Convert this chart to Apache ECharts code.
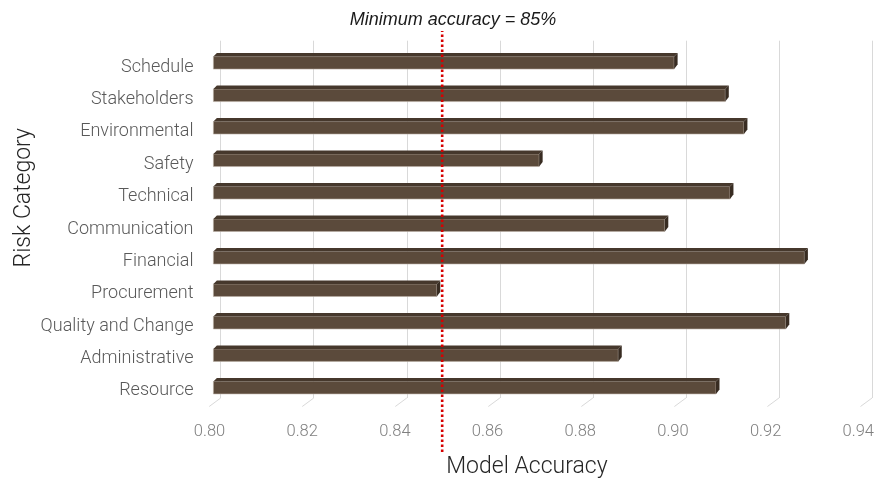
<!DOCTYPE html>
<html>
<head>
<meta charset="utf-8">
<script src="https://cdn.jsdelivr.net/npm/echarts@6/dist/echarts.min.js"></script>
<style>
  html, body { margin: 0; padding: 0; background: #ffffff; }
  #chart { width: 877px; height: 484px; }
</style>
</head>
<body>
<div id="chart"></div>
<script>
// Risk categories, top to bottom
const categories = [
  'Schedule', 'Stakeholders', 'Environmental', 'Safety', 'Technical',
  'Communication', 'Financial', 'Procurement', 'Quality and Change',
  'Administrative', 'Resource'
];
// Model accuracy per category
const accuracy = [0.899, 0.910, 0.914, 0.870, 0.911, 0.897, 0.927, 0.848, 0.923, 0.887, 0.908];
// Accuracy axis ticks
const tickValues = [0.80, 0.82, 0.84, 0.86, 0.88, 0.90, 0.92, 0.94];
const axisMin = 0.80, axisMax = 0.94, axisStep = 0.02;
// Threshold
const minimumAccuracy = 0.85;
const thresholdLabel = 'Minimum accuracy = 85%';

const FONT = 'Roboto';
const chart = echarts.init(document.getElementById('chart'), null, { renderer: 'canvas' });

// Depth of the pseudo-3D bars
const DEPTH = 3.5;
const BAR_H = 12.5;

function renderBar(params, api) {
  const v = api.value(0);
  const c = api.value(1);
  const p0 = api.coord([axisMin, c]);
  const p1 = api.coord([v, c]);
  const x0 = p0[0], x1 = p1[0];
  const yT = p0[1] - BAR_H / 2, yB = p0[1] + BAR_H / 2;
  return {
    type: 'group',
    children: [
      {
        type: 'rect',
        shape: { x: x0, y: yT, width: x1 - x0, height: BAR_H },
        style: { fill: '#5b4a3b', stroke: '#b9ada2', lineWidth: 0.6 }
      },
      {
        type: 'polygon',
        shape: { points: [[x0, yT], [x0 + DEPTH, yT - DEPTH], [x1 + DEPTH, yT - DEPTH], [x1, yT]] },
        style: { fill: '#46382c' }
      },
      {
        type: 'polygon',
        shape: { points: [[x1, yT], [x1 + DEPTH, yT - DEPTH], [x1 + DEPTH, yB - DEPTH - 1], [x1, yB]] },
        style: { fill: '#382c22' }
      }
    ]
  };
}

function renderFloorTick(params, api) {
  const p = api.coord([api.value(0), 0]);
  return {
    type: 'line',
    shape: { x1: p[0], y1: p[1], x2: p[0] - 11.5, y2: p[1] + 8.5 },
    style: { stroke: '#d9d9d9', lineWidth: 1 }
  };
}

const option = {
  backgroundColor: '#ffffff',
  animation: false,
  title: {
    text: thresholdLabel,
    left: 448,
    top: 6,
    textAlign: 'center',
    textStyle: { fontFamily: 'Liberation Sans', fontStyle: 'italic', fontWeight: 'normal', fontSize: 18, color: '#1a1a1a' }
  },
  graphic: [{
    type: 'text',
    left: 13,
    top: 128,
    rotation: Math.PI / 2,
    style: { text: 'Risk Category', font: '300 23px Roboto', fill: '#262626' }
  }],
  grid: [
    // back wall (gridlines)
    { left: 220.7, right: 5, top: 40.7, bottom: 86 },
    // bar plane
    { left: 213.4, right: 12.1, top: 46.6, bottom: 80.1 },
    // floor front (labels)
    { left: 209.5, right: 16, top: 51, bottom: 75.5 },
    // threshold line
    { left: 209.5, right: 16, top: 31, bottom: 32 }
  ],
  xAxis: [
    {
      gridIndex: 0, type: 'value', min: axisMin, max: axisMax, interval: axisStep,
      axisLine: { show: false }, axisTick: { show: false }, axisLabel: { show: false },
      splitLine: { show: true, lineStyle: { color: '#d9d9d9', width: 1 } }
    },
    {
      gridIndex: 1, type: 'value', min: axisMin, max: axisMax, interval: axisStep,
      axisLine: { show: false }, axisTick: { show: false }, axisLabel: { show: false },
      splitLine: { show: false }
    },
    {
      gridIndex: 2, type: 'value', min: axisMin, max: axisMax, interval: axisStep,
      axisLine: { show: false }, axisTick: { show: false },
      splitLine: { show: false },
      axisLabel: {
        margin: 16, color: '#7f7f7f', fontFamily: FONT, fontWeight: 300, fontSize: 16.5,
        formatter: v => v.toFixed(2)
      },
      name: 'Model Accuracy', nameLocation: 'middle', nameGap: 49,
      nameTextStyle: { fontFamily: FONT, fontWeight: 300, fontSize: 23, color: '#262626', padding: [0, 14, 0, 0] }
    },
    {
      gridIndex: 3, type: 'value', min: axisMin, max: axisMax, show: false
    }
  ],
  yAxis: [
    { gridIndex: 0, type: 'value', min: 0, max: 1, show: false },
    {
      gridIndex: 1, type: 'category', data: categories, inverse: true,
      axisLine: { show: false }, axisTick: { show: false }, axisLabel: { show: false }
    },
    {
      gridIndex: 2, type: 'category', data: categories, inverse: true,
      axisLine: { show: false }, axisTick: { show: false },
      axisLabel: { margin: 16, color: '#595959', fontFamily: FONT, fontWeight: 300, fontSize: 18 }
    },
    { gridIndex: 3, type: 'value', min: 0, max: 1, show: false }
  ],
  series: [
    {
      type: 'custom', xAxisIndex: 0, yAxisIndex: 0,
      data: tickValues.map(v => [v]),
      renderItem: renderFloorTick, silent: true
    },
    {
      type: 'custom', xAxisIndex: 1, yAxisIndex: 1,
      data: accuracy.map((v, i) => [v, i]),
      encode: { x: 0, y: 1 },
      renderItem: renderBar
    },
    {
      type: 'line', xAxisIndex: 3, yAxisIndex: 3,
      data: [[minimumAccuracy, 0], [minimumAccuracy, 1]],
      symbol: 'none', silent: true,
      lineStyle: { color: '#d60000', width: 2.6, type: [2.4, 2.6] }
    }
  ]
};
chart.setOption(option);
</script>
</body>
</html>
